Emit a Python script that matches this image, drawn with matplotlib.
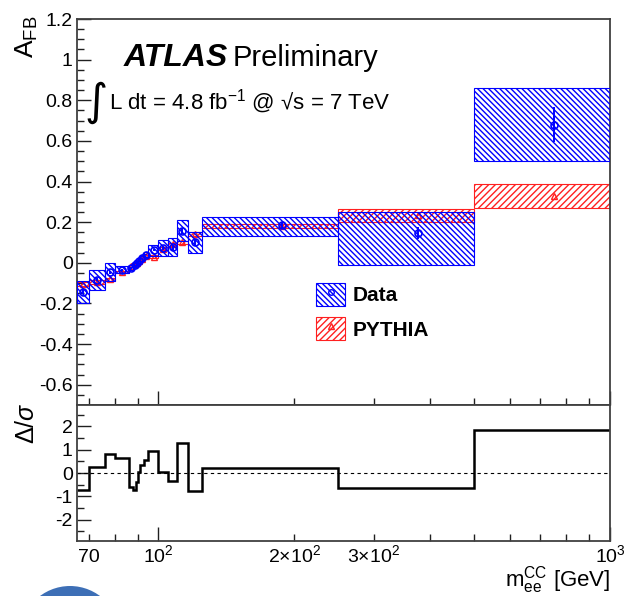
import numpy as np
import matplotlib
matplotlib.use('Agg')
import matplotlib.pyplot as plt
from matplotlib.patches import Patch, Circle
from matplotlib.lines import Line2D
from matplotlib.legend_handler import HandlerTuple
from matplotlib.ticker import FixedLocator, MultipleLocator, NullFormatter

plt.rcParams['font.family'] = ['Liberation Sans', 'DejaVu Sans']
plt.rcParams['mathtext.fontset'] = 'custom'
plt.rcParams['mathtext.rm'] = 'Liberation Sans'
plt.rcParams['mathtext.it'] = 'Liberation Sans:italic'
plt.rcParams['mathtext.bf'] = 'Liberation Sans:bold'
plt.rcParams['hatch.linewidth'] = 1.0

# ---------------- data ----------------
mass_edges = [66, 70, 76, 80, 86, 88, 89, 90, 91, 93, 95, 100, 105, 110, 116, 125, 250, 500, 1000]

data_afb = [-0.145, -0.084, -0.046, -0.035, -0.025, -0.012, -0.002, 0.008, 0.022, 0.040,
            0.062, 0.072, 0.076, 0.157, 0.100, 0.187, 0.146, 0.680]
data_err_lo = [0.054, 0.050, 0.046, 0.017, 0.012, 0.010, 0.009, 0.009, 0.011, 0.013,
               0.027, 0.041, 0.045, 0.052, 0.053, 0.057, 0.156, 0.180]
data_err_hi = [0.054, 0.050, 0.046, 0.017, 0.012, 0.010, 0.009, 0.009, 0.011, 0.013,
               0.027, 0.041, 0.045, 0.052, 0.053, 0.036, 0.104, 0.182]
data_stat = [0.010, 0.008, 0.008, 0.005, 0.004, 0.003, 0.003, 0.003, 0.003, 0.004,
             0.006, 0.010, 0.012, 0.015, 0.016, 0.015, 0.030, 0.085]

pythia_afb = [-0.105, -0.095, -0.082, -0.046, -0.018, -0.005, 0.001, 0.007, 0.018, 0.034,
              0.030, 0.070, 0.091, 0.100, 0.142, 0.181, 0.233, 0.329]
pythia_err = [0.008, 0.008, 0.007, 0.006, 0.005, 0.005, 0.005, 0.005, 0.005, 0.005,
              0.006, 0.007, 0.007, 0.008, 0.012, 0.009, 0.033, 0.060]

pull = [-0.72, 0.25, 0.83, 0.65, -0.60, -0.72, -0.38, 0.06, 0.35, 0.54,
        0.93, 0.06, -0.34, 1.30, -0.78, 0.23, -0.65, 1.84]

x_ticks = [70, 100, 200, 300, 1000]
x_ticklabels = ['70', r'$10^{2}$', r'$2{\times}10^{2}$', r'$3{\times}10^{2}$', r'$10^{3}$']

# ---------------- figure ----------------
W, H = 624, 596
fig = plt.figure(figsize=(W / 100, H / 100), dpi=100)

def fx(x):
    return x / W

def fy(y):
    return 1 - y / H

ax = fig.add_axes([fx(77), fy(405), (610 - 77) / W, (405 - 19) / H])
axr = fig.add_axes([fx(77), fy(541), (610 - 77) / W, (541 - 405) / H])

edges = np.array(mass_edges, dtype=float)
lefts = edges[:-1]
widths = np.diff(edges)
centers = 0.5 * (edges[:-1] + edges[1:])

d = np.array(data_afb)
dlo = np.array(data_err_lo)
dhi = np.array(data_err_hi)
p = np.array(pythia_afb)
pe = np.array(pythia_err)

blue = '#0000ff'
red = '#ff2020'
hatch_data = '\\' * 6
hatch_py = '/' * 5

# PYTHIA boxes
ax.bar(lefts, 2 * pe, width=widths, bottom=p - pe, align='edge', facecolor='none',
       edgecolor=red, hatch=hatch_py, linewidth=0.8, zorder=2)
ax.plot(centers, p, ls='none', marker='^', ms=4, mfc='none', mec=red, mew=1.0, zorder=3)

# Data boxes
ax.bar(lefts, dlo + dhi, width=widths, bottom=d - dlo, align='edge', facecolor='none',
       edgecolor=blue, hatch=hatch_data, linewidth=0.8, zorder=4)
ax.errorbar(centers, d, yerr=data_stat, fmt='o', ms=5, mfc='none', mec=blue, mew=1.2,
            ecolor=blue, elinewidth=1.4, capsize=0, zorder=5)

ax.set_xscale('log')
ax.set_xlim(66, 1000)
ax.set_ylim(-0.7, 1.2)

# ratio
axr.stairs(pull, edges, color='black', linewidth=1.8, baseline=None)
axr.axhline(0, color='black', lw=0.8, ls=(0, (3, 3)))
axr.set_xscale('log')
axr.set_xlim(66, 1000)
axr.set_ylim(-2.92, 2.92)

spine_col = '#404040'
for a in (ax, axr):
    for s in a.spines.values():
        s.set_color(spine_col)
        s.set_linewidth(1.3)
    a.tick_params(which='both', direction='in', top=False, right=False,
                  labelsize=14, pad=3, color='#202020')
    a.tick_params(which='major', length=10, width=1.0)
    a.tick_params(which='minor', length=5, width=1.0)
    a.xaxis.set_major_locator(FixedLocator([100, 1000]))
    a.xaxis.set_minor_locator(FixedLocator([70, 80, 90, 200, 300, 400, 500, 600, 700, 800, 900]))
    a.xaxis.set_major_formatter(NullFormatter())
    a.xaxis.set_minor_formatter(NullFormatter())

ax.set_yticks([-0.6, -0.4, -0.2, 0, 0.2, 0.4, 0.6, 0.8, 1.0, 1.2])
ax.set_yticklabels(['-0.6', '-0.4', '-0.2', '0', '0.2', '0.4', '0.6', '0.8', '1', '1.2'])
ax.yaxis.set_minor_locator(MultipleLocator(0.05))

axr.set_yticks([-2, -1, 0, 1, 2])
axr.set_yticklabels(['-2', '-1', '0', '1', '2'])
axr.yaxis.set_minor_locator(MultipleLocator(0.5))

# x tick labels on the ratio panel, on a common baseline
base_frac = (541 - 562) / (541 - 405)
for xv, lab in zip(x_ticks, x_ticklabels):
    axr.text(xv, base_frac, lab, transform=axr.get_xaxis_transform(), ha='center',
             va='baseline', fontsize=14)

# axis titles
fig.text(fx(27), fy(16), r'A$_{\rm FB}$', rotation=90, ha='center', va='top', fontsize=19)
fig.text(fx(27), fy(402), r'$\Delta/\sigma$', rotation=90, ha='center', va='top', fontsize=18)
fig.text(fx(610), fy(587), r'm$_{\rm ee}^{\rm CC}$ [GeV]', ha='right', va='baseline', fontsize=16)

# ATLAS label
fig.text(fx(124), fy(66), 'ATLAS', fontsize=23, fontweight='bold', fontstyle='italic',
         va='baseline', ha='left')
fig.text(fx(233), fy(66), 'Preliminary', fontsize=21, va='baseline', ha='left')
fig.text(fx(96), fy(103), '\u222b', family='DejaVu Sans', fontsize=32, ha='center',
         va='center')
fig.text(fx(109), fy(109), 'L dt = 4.8 fb$^{-1}$ @ \u221as = 7 TeV',
         fontsize=16, va='baseline', ha='left')

# legend
h_data = (Patch(facecolor='none', edgecolor=blue, hatch=hatch_data, linewidth=0.8),
          Line2D([], [], ls='none', marker='o', ms=4, mfc='none', mec=blue, mew=1.0))
h_py = (Patch(facecolor='none', edgecolor=red, hatch=hatch_py, linewidth=0.8),
        Line2D([], [], ls='none', marker='^', ms=4, mfc='none', mec=red, mew=1.0))
leg = ax.legend([h_data, h_py], ['Data', 'PYTHIA'],
                handler_map={tuple: HandlerTuple(ndivide=1, pad=0)},
                loc='upper left', bbox_to_anchor=((316 - 77) / 533, (405 - 283) / 386),
                frameon=False, borderpad=0, borderaxespad=0, handlelength=1.4,
                handleheight=1.3, handletextpad=0.35, labelspacing=0.55,
                prop={'weight': 'bold', 'size': 15})

# decorative partial circle at bottom-left (screenshot artifact)
circ = Circle((70, -40), 50, transform=None, facecolor='#3d6fb6', edgecolor='none')
fig.patches.append(circ)

fig.savefig('out.png', dpi=100)
